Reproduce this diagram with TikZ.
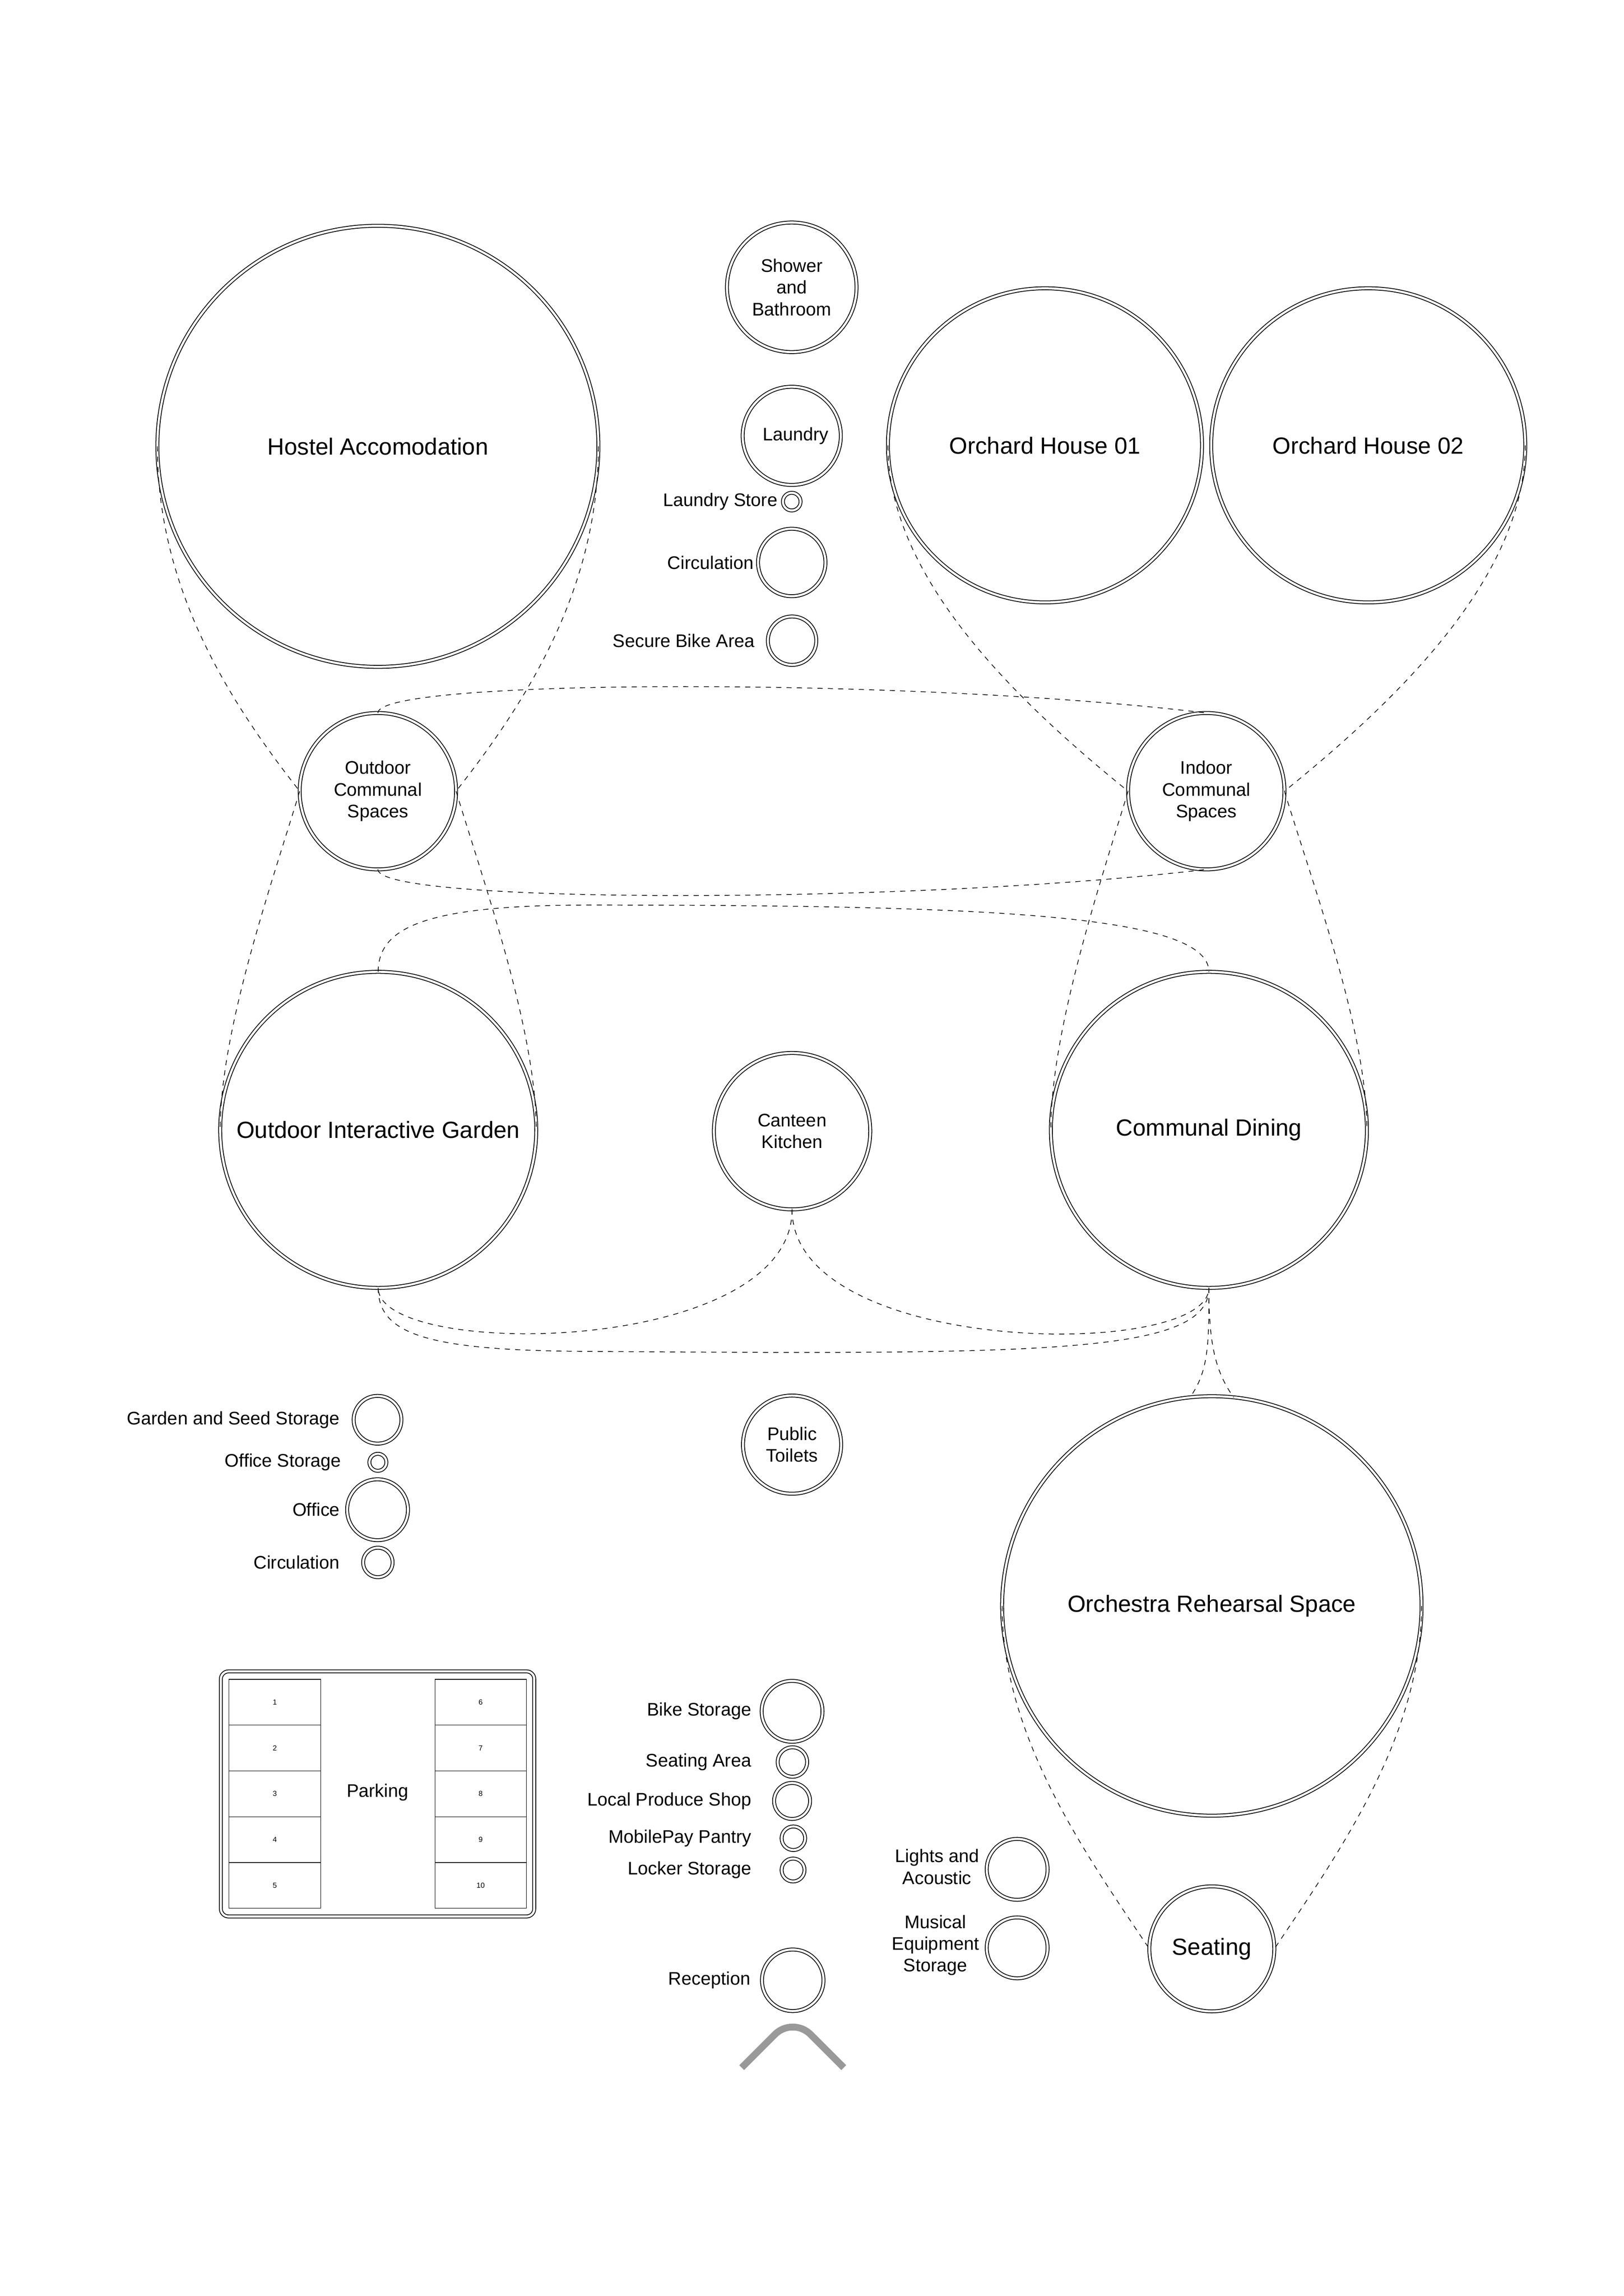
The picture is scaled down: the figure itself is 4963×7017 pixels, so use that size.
\documentclass[tikz,border=0pt]{standalone}
\usepackage{fontspec}
\setmainfont{Liberation Sans}
\def\u{0.042313mm}
\tikzset{
  room/.style={circle, draw, line width=0.3pt, double, double distance=0.8pt, inner sep=0pt, outer sep=0pt, align=center},
  bigtxt/.style={font=\fontsize{8.6}{10}\selectfont},
  smalltxt/.style={font=\fontsize{6.7}{8}\selectfont},
  link/.style={draw, line width=0.25pt, dash pattern=on 1.9pt off 1.9pt},
  lbl/.style={smalltxt, anchor=east, inner sep=0pt, align=center},
  stall/.style={draw, line width=0.22pt},
  stallnum/.style={font=\fontsize{2.7}{3}\selectfont, inner sep=0pt},
  chev/.style={draw=black!40, line width=2.52pt, rounded corners=3.26mm, line cap=butt}
}
\begin{document}
\begin{tikzpicture}[x=0.042313mm, y=-0.042313mm]
\useasboundingbox (0,0) rectangle (4963,7017);
% ---- rooms ----
\node[room, bigtxt, minimum size=1348*\u] (hostel) at (1155,1364) {Hostel Accomodation};
\node[room, smalltxt, minimum size=396*\u] (shower) at (2420,878) {Shower\\and\\Bathroom};
\node[room, smalltxt, minimum size=300*\u] (laundry) at (2420,1332) {\hspace*{1mm}Laundry};
\node[room, minimum size=54*\u] (lstore) at (2420,1533) {};
\node[room, minimum size=206*\u] (circa) at (2420,1719) {};
\node[room, minimum size=148*\u] (sbike) at (2421,1958) {};
\node[room, bigtxt, minimum size=960*\u] (oh1) at (3194,1361) {Orchard House 01};
\node[room, bigtxt, minimum size=960*\u] (oh2) at (4182,1361) {Orchard House 02};
\node[room, smalltxt, minimum size=478*\u] (oc) at (1155,2418) {Outdoor\\Communal\\Spaces};
\node[room, smalltxt, minimum size=478*\u] (ic) at (3687,2418) {Indoor\\Communal\\Spaces};
\node[room, bigtxt, minimum size=966*\u] (garden) at (1156,3453) {Outdoor Interactive Garden};
\node[room, smalltxt, minimum size=478*\u] (canteen) at (2421,3457) {Canteen\\Kitchen};
\node[room, bigtxt, minimum size=966*\u] (dining) at (3695,3453) {Communal Dining};
\node[room, smalltxt, minimum size=300*\u] (toilets) at (2421,4415) {Public\\Toilets};
\node[room, bigtxt, minimum size=1282*\u] (orch) at (3704,4908) {Orchestra Rehearsal Space};
\node[room, bigtxt, minimum size=382*\u] (seat) at (3704,5956) {Seating};
\node[room, minimum size=186*\u] (lights) at (3109,5713) {};
\node[room, minimum size=186*\u] (musical) at (3109,5953) {};
\node[room, minimum size=146*\u] (gseed) at (1154,4339) {};
\node[room, minimum size=52*\u] (ostore) at (1155,4469) {};
\node[room, minimum size=186*\u] (office) at (1154,4614) {};
\node[room, minimum size=90*\u] (circb) at (1155,4775) {};
\node[room, minimum size=186*\u] (bike) at (2421,5230) {};
\node[room, minimum size=90*\u] (seatarea) at (2422,5385) {};
\node[room, minimum size=110*\u] (shop) at (2421,5504) {};
\node[room, minimum size=72*\u] (pantry) at (2425,5618) {};
\node[room, minimum size=70*\u] (locker) at (2424,5715) {};
\node[room, minimum size=188*\u] (reception) at (2423,6052) {};
% ---- labels ----
\node[lbl] (lstoreL) at (2378,1533) {Laundry Store};
\node[lbl] (circaL) at (2305,1719) {Circulation};
\node[lbl] (sbikeL) at (2308,1958) {Secure Bike Area};
\node[lbl] (gseedL) at (1040,4339) {Garden and Seed Storage};
\node[lbl] (ostoreL) at (1044,4469) {Office Storage};
\node[lbl] (officeL) at (1040,4614) {Office};
\node[lbl] (circbL) at (1040,4775) {Circulation};
\node[lbl] (bikeL) at (2298,5230) {Bike Storage};
\node[lbl] (seatareaL) at (2298,5385) {Seating Area};
\node[lbl] (shopL) at (2298,5504) {Local Produce Shop};
\node[lbl] (pantryL) at (2298,5618) {MobilePay Pantry};
\node[lbl] (lockerL) at (2298,5715) {Locker Storage};
\node[lbl] (receptionL) at (2295,6052) {Reception};
\node[lbl] (lightsL) at (2994,5705) {Lights and\\Acoustic};
\node[lbl] (musicalL) at (2994,5945) {Musical\\Equipment\\Storage};
% ---- parking ----
\node[draw, line width=0.3pt, double, double distance=0.8pt, rounded corners=1mm, minimum width=958*\u, minimum height=749*\u, inner sep=0pt, outer sep=0pt] (parkframe) at (1154,5482.5) {};
\node[smalltxt] (parking) at (1154,5478) {Parking};
\foreach \i/\a/\b in {0/1/6,1/2/7,2/3/8,3/4/9,4/5/10}{
  \draw[stall] (700,{5132+140*\i}) rectangle (980,{5272+140*\i});
  \draw[stall] (1330,{5132+140*\i}) rectangle (1609,{5272+140*\i});
  \node[stallnum] (sl\a) at (840,{5202+140*\i}) {\a};
  \node[stallnum] (sr\b) at (1469,{5202+140*\i}) {\b};
}
% ---- entrance chevron ----
\draw[chev] (2267,6319) -- (2423,6163) -- (2579,6319);
% ---- connectors ----
\coordinate (cmid) at (1800,2766);
\coordinate (fmid) at (1800,4130);
\draw[link] (hostel.west) .. controls +(0,435) and +(-217,-276) .. (oc.west);
\draw[link] (hostel.east) .. controls +(0,435) and +(217,-276) .. (oc.east);
\draw[link] (oc.west) .. controls +(-87,287) and +(0,-303) .. (garden.west);
\draw[link] (oc.east) .. controls +(87,287) and +(0,-303) .. (garden.east);
\draw[link] (oh1.west) .. controls +(0,400) and +(-351,-284) .. (ic.west);
\draw[link] (oh2.east) .. controls +(0,400) and +(351,-284) .. (ic.east);
\draw[link] (ic.west) .. controls +(-87,287) and +(0,-303) .. (dining.west);
\draw[link] (ic.east) .. controls +(87,287) and +(0,-303) .. (dining.east);
\draw[link] (oc.north) .. controls +(0,-107) and +(-887,-108) .. (ic.north);
\draw[link] (oc.south) .. controls +(0,107) and +(-887,106) .. (ic.south);
\draw[link] (garden.north) .. controls +(0,-136) and (1300,2766) .. (cmid) .. controls (3000,2766) and +(0,-177) .. (dining.north);
\draw[link] (canteen.south) .. controls +(0,450) and +(0,220) .. (garden.south);
\draw[link] (canteen.south) .. controls +(0,450) and +(0,222) .. (dining.south);
\draw[link] (garden.south) .. controls +(0,140) and (1300,4128) .. (fmid) .. controls (3200,4140) and +(0,202) .. (dining.south);
\draw[link] (dining.south) .. controls +(0,162) and +(59,-81) .. (orch.96);
\draw[link] (dining.south) .. controls +(0,162) and +(-59,-81) .. (orch.84);
\draw[link] (orch.west) .. controls +(0,400) and +(-195,-291) .. (seat.west);
\draw[link] (orch.east) .. controls +(0,400) and +(195,-291) .. (seat.east);
\end{tikzpicture}
\end{document}
